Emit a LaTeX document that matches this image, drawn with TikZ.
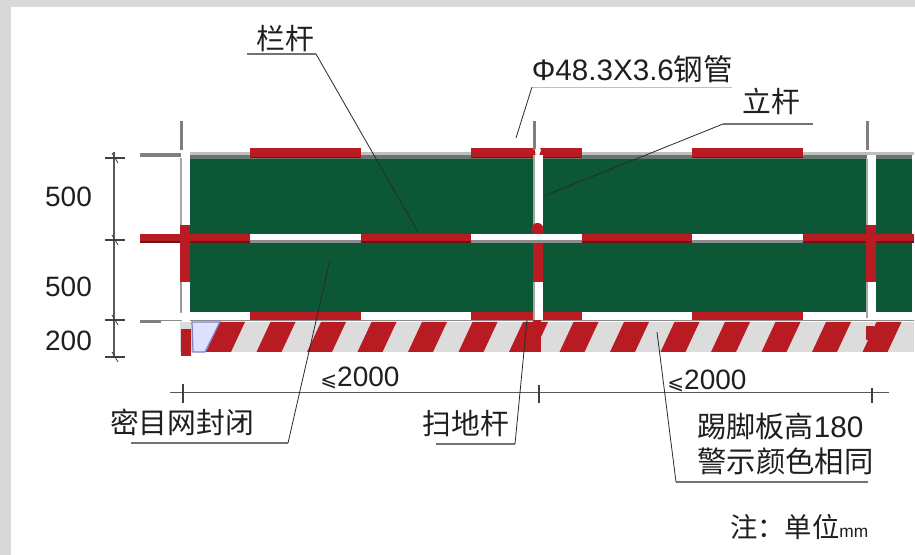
\documentclass[tikz,border=0pt]{standalone}
\usepackage{fontspec}
\setmainfont{Liberation Sans}
\newfontfamily\cjk{Noto Sans CJK SC}
\newfontfamily\dejavu{DejaVu Sans}
\definecolor{railred}{HTML}{B81B22}
\definecolor{darkred}{HTML}{6E1418}
\definecolor{netgreen}{HTML}{0C5736}
\definecolor{kickgray}{HTML}{DCDCDC}
\definecolor{framegray}{HTML}{D9D9D9}
\definecolor{pipegray}{HTML}{7F7F7F}
\definecolor{inkcol}{HTML}{2A2A2A}
\definecolor{bandgray}{HTML}{66776E}
\tikzset{
  x=0.75pt,y=-0.75pt,
  leader/.style={draw=inkcol,line width=0.6pt},
  underline/.style={draw=black!55,line width=0.9pt},
  dimline/.style={draw=black!65,line width=0.8pt},
  dimtick/.style={draw=black!75,line width=1pt},
  label/.style={inner sep=0pt,outer sep=0pt,text=black!88,anchor=center},
  big/.style={label,font=\fontsize{21}{24}\selectfont},
  zh/.style={label,font=\cjk\fontsize{21.6}{25}\selectfont},
}
\begin{document}
\begin{tikzpicture}
\useasboundingbox (0,0) rectangle (915,555);
% frame
\fill[framegray] (0,0) rectangle (915,555);
\fill[white] (11,7) rectangle (915,555);
% net
\fill[netgreen] (190,159) rectangle (912,312);
% top rail
\fill[black!25] (190,152) rectangle (914,155);
\fill[bandgray] (190,155) rectangle (912,159);
\fill[pipegray] (140,153.5) rectangle (181,157.5);
\foreach \a/\b in {250/361,471/535,538/582,692/803}{
  \fill[railred] (\a,148) rectangle (\b,158);
  \fill[darkred] (\a,157) rectangle (\b,158.5);
}
% middle rail
\fill[railred] (140,234) rectangle (914,243);
\fill[darkred] (140,241.5) rectangle (914,243.5);
\foreach \a/\b in {250/361,471/582,692/803}{
  \fill[white] (\a,234) rectangle (\b,240);
  \fill[black!45] (\a,240) rectangle (\b,243.5);
}
% bottom rail
\fill[white] (190,312) rectangle (914,320);
\fill[black!45] (161,320.5) rectangle (914,321.5);
\fill[pipegray] (140,320.5) rectangle (161,323);
\foreach \a/\b in {250/361,471/582,692/803}{
  \fill[railred] (\a,312) rectangle (\b,320.5);
}
% kick board
\fill[kickgray] (180,322) rectangle (914,352);
\foreach \k in {0,...,13}{
  \fill[railred] ({220+50.5*\k},322) -- ({245+50.5*\k},322) -- ({231+50.5*\k},352) -- ({206+50.5*\k},352) -- cycle;
}
\fill[blue!12!white,draw=blue!45!gray!70,line width=0.9pt] (192,322) -- (220,322) -- (205,352) -- (193,352) -- cycle;
\fill[railred] (181,329) rectangle (191,356);
\fill[railred] (533,320) rectangle (541,352);
\fill[railred] (866,326) rectangle (874,340);
% posts
\foreach \px/\wt in {180/10,533/9.5,866/10}{
  \fill[pipegray] ({\px-0.5},121) rectangle ({\px+3},150);
  \fill[white] (\px,158) rectangle ({\px+\wt},313);
  \fill[black!35] (\px,158) rectangle ({\px+2},313);
  \fill[railred] (\px,225) rectangle ({\px+\wt},282);
}
% post 1 lower end
\fill[black!40] (180,282) rectangle (182,312);
\fill[white] (182,312) rectangle (190,322);
% post 2: rail passes in front
\fill[white] (533,155) rectangle (542.5,228);
\fill[black!35] (533,155) rectangle (535,228);
\fill[railred] (537.5,229) circle (6);
\fill[white] (530,234) rectangle (582,240);
\fill[black!45] (530,240) rectangle (582,243.5);
\fill[white] (533,282) rectangle (542.5,320);
\fill[black!35] (533,282) rectangle (535,320);
\fill[white] (535,150) -- (538,145) -- (541,150) -- (538,158) -- cycle;
% post 3 lower end
\fill[white] (866,282) rectangle (876,318);
\fill[black!35] (866,282) rectangle (868,318);
\fill[white] (867,155) rectangle (876,225);
\fill[black!35] (866,159) rectangle (868,225);
% vertical dimensions
\coordinate (vt) at (114,152);
\coordinate (vb) at (114,358);
\draw[dimline] (vt) -- (vb);
\foreach \n/\yy in {d1/158,d2/240,d3/320,d4/357}{
  \coordinate (\n l) at (105,\yy);
  \coordinate (\n r) at (125,\yy);
  \coordinate (\n a) at (112,\yy-5);
  \coordinate (\n b) at (118,\yy+5);
  \draw[dimtick] (\n l) -- (\n r);
  \draw[dimtick,line width=0.6pt] (\n a) -- (\n b);
}
\node[big] (v1) at (68.5,197) {500};
\node[big] (v2) at (68.5,287) {500};
\node[big] (v3) at (68.5,341) {200};
% horizontal dimension
\coordinate (hl) at (170,392.7);
\coordinate (hr) at (889,392.7);
\draw[dimline] (hl) -- (hr);
\foreach \n/\xx/\tp in {h1/183/384,h2/539/385,h3/872/388}{
  \coordinate (\n a) at (\xx,\tp);
  \coordinate (\n b) at (\xx,403);
  \draw[dimtick] (\n a) -- (\n b);
}
\node[big] (w1) at (360,377.5) {{\dejavu\fontsize{15}{15}\selectfont ⩽}2000};
\node[big] (w2) at (707,380.5) {{\dejavu\fontsize{15}{15}\selectfont ⩽}2000};
% labels
\node[zh] (lan) at (285,38.5) {栏杆};
\coordinate (lanA) at (247,54); \coordinate (lanB) at (316,54); \coordinate (lanC) at (418,232);
\draw[underline] (lanA) -- (lanB);
\draw[leader] (lanB) -- (lanC);
\node[label,font=\fontsize{22.2}{26}\selectfont] (gg) at (632.5,69) {Φ48.3X3.6{\cjk 钢管}};
\coordinate (ggA) at (732,87); \coordinate (ggB) at (532,87); \coordinate (ggC) at (516,138);
\draw[draw=black!25,line width=0.7pt] (ggA) -- (ggB);
\draw[leader] (ggB) -- (ggC);
\node[zh] (li) at (771,101.5) {立杆};
\coordinate (liA) at (813,124); \coordinate (liB) at (723,124); \coordinate (liC) at (544,196);
\draw[underline] (liA) -- (liB);
\draw[leader] (liB) -- (liC);
\node[zh] (mi) at (182,422) {密目网封闭};
\coordinate (miA) at (131,443); \coordinate (miB) at (288,443); \coordinate (miC) at (330,260);
\draw[underline] (miA) -- (miB);
\draw[leader] (miB) -- (miC);
\node[zh] (sao) at (466,424) {扫地杆};
\coordinate (saoA) at (436,444); \coordinate (saoB) at (515,444); \coordinate (saoC) at (527,320);
\draw[underline] (saoA) -- (saoB);
\draw[leader] (saoB) -- (saoC);
\node[zh,font=\fontsize{21.8}{25}\selectfont\cjk] (ti) at (780.5,426) {踢脚板高{\rmfamily\fontsize{22.3}{24}\selectfont 180}};
\node[zh,font=\fontsize{22}{25}\selectfont\cjk] (jing) at (785.5,461.5) {警示颜色相同};
\coordinate (tiA) at (868,482); \coordinate (tiB) at (676,482); \coordinate (tiC) at (657,332);
\draw[underline] (tiA) -- (tiB);
\draw[leader] (tiB) -- (tiC);
\node[label,font=\cjk\fontsize{20.5}{24}\selectfont,anchor=west] (zhu) at (730,527.5) {注：单位{\rmfamily\fontsize{13}{12}\selectfont mm}};
\end{tikzpicture}
\end{document}
